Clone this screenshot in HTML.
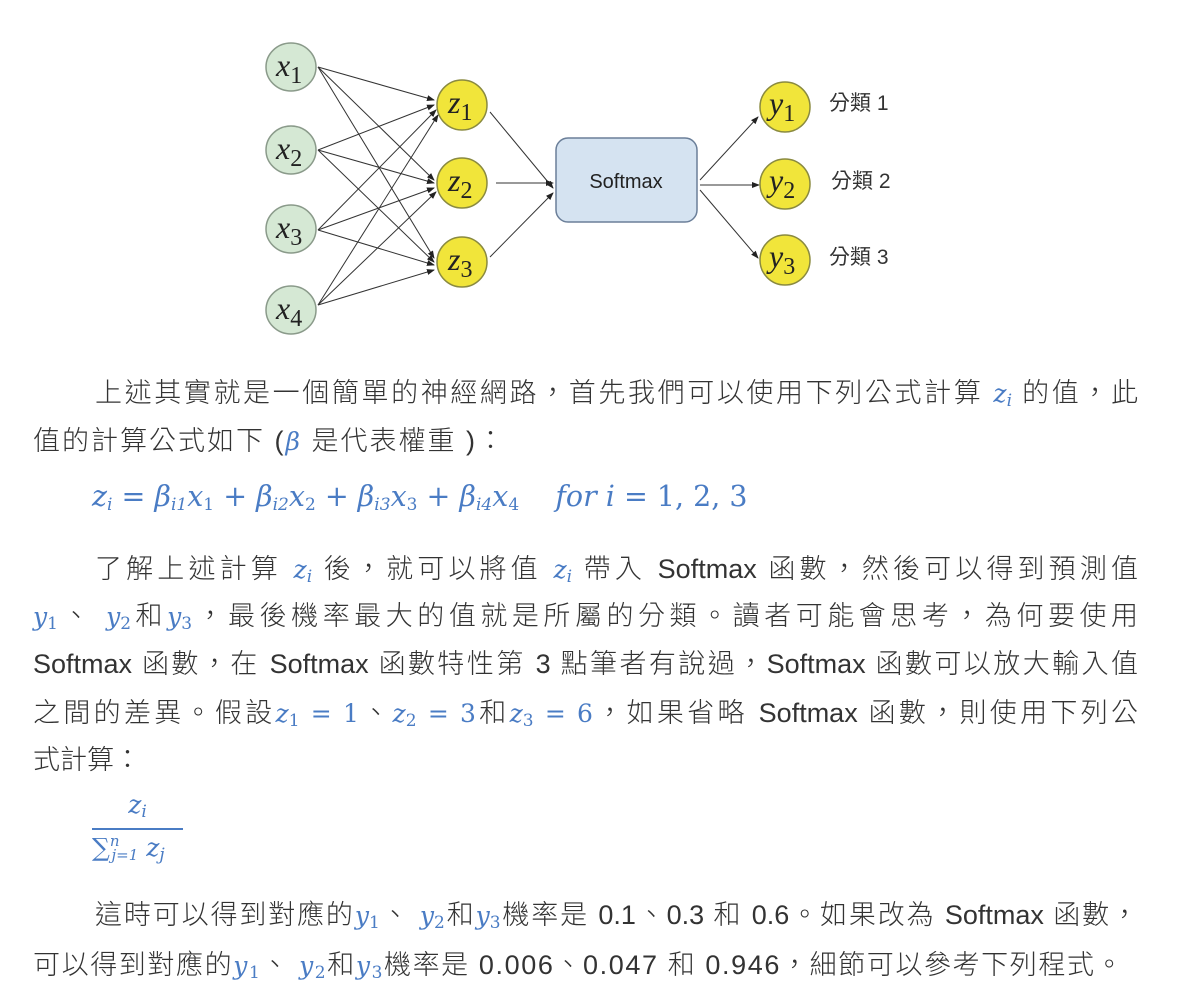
<!DOCTYPE html>
<html><head><meta charset="utf-8">
<style>
body{margin:0;background:#fff;width:1178px;height:999px;position:relative;overflow:hidden;font-family:"Liberation Sans","Noto Sans CJK TC",sans-serif;color:#333;}
.l{position:absolute;left:33px;width:1105px;font-size:27px;line-height:36px;white-space:nowrap;font-weight:300;}
.j{text-align:justify;text-align-last:justify;white-space:normal;}
.m{font-family:"DejaVu Serif","Liberation Serif",serif;font-style:italic;color:#4a7cc4;font-size:25px;}
.m sub{font-size:17px;font-style:normal;vertical-align:-4px;line-height:0;}
.mi sub{font-style:italic;}
</style></head><body>
<svg width="1178" height="350" style="position:absolute;left:0;top:0" xmlns="http://www.w3.org/2000/svg">
<defs><marker id="a" markerWidth="8" markerHeight="8" refX="7" refY="4" orient="auto" markerUnits="userSpaceOnUse"><path d="M0,1 L8,4 L0,7 z" fill="#222"/></marker></defs>
<g stroke="#333" stroke-width="1" marker-end="url(#a)">
<line x1="318" y1="67" x2="434" y2="100"/><line x1="318" y1="67" x2="434" y2="180"/><line x1="318" y1="67" x2="434" y2="258"/>
<line x1="318" y1="150" x2="434" y2="105"/><line x1="318" y1="150" x2="434" y2="183"/><line x1="318" y1="150" x2="434" y2="262"/>
<line x1="318" y1="230" x2="436" y2="110"/><line x1="318" y1="230" x2="434" y2="188"/><line x1="318" y1="230" x2="434" y2="265"/>
<line x1="318" y1="305" x2="438" y2="115"/><line x1="318" y1="305" x2="436" y2="192"/><line x1="318" y1="305" x2="434" y2="270"/>
<line x1="490" y1="112" x2="553" y2="188"/><line x1="496" y1="183" x2="553" y2="183"/><line x1="490" y1="257" x2="553" y2="193"/>
<line x1="700" y1="180" x2="758" y2="117"/><line x1="700" y1="185" x2="759" y2="185"/><line x1="700" y1="190" x2="758" y2="258"/>
</g>
<g fill="#d5e8d4" stroke="#8a9a8a" stroke-width="1.5">
<ellipse cx="291" cy="67" rx="25" ry="24"/><ellipse cx="291" cy="150" rx="25" ry="24"/><ellipse cx="291" cy="229" rx="25" ry="24"/><ellipse cx="291" cy="310" rx="25" ry="24"/>
</g>
<g fill="#f1e53a" stroke="#8a8a40" stroke-width="1.5">
<ellipse cx="462" cy="105" rx="25" ry="25"/><ellipse cx="462" cy="183" rx="25" ry="25"/><ellipse cx="462" cy="262" rx="25" ry="25"/>
<ellipse cx="785" cy="107" rx="25" ry="25"/><ellipse cx="785" cy="184" rx="25" ry="25"/><ellipse cx="785" cy="260" rx="25" ry="25"/>
</g>
<rect x="556" y="138" width="141" height="84" rx="12" fill="#d5e3f1" stroke="#6b7f99" stroke-width="1.5"/>
<text x="626" y="188" font-size="20" text-anchor="middle" font-family="Liberation Sans,sans-serif" fill="#222">Softmax</text>
<g font-family="Liberation Serif,serif" font-style="italic" font-size="32" fill="#222">
<text x="276" y="76">x<tspan font-style="normal" font-size="24" dy="7">1</tspan></text>
<text x="276" y="159">x<tspan font-style="normal" font-size="24" dy="7">2</tspan></text>
<text x="276" y="238">x<tspan font-style="normal" font-size="24" dy="7">3</tspan></text>
<text x="276" y="319">x<tspan font-style="normal" font-size="24" dy="7">4</tspan></text>
<text x="448" y="113">z<tspan font-style="normal" font-size="24" dy="7">1</tspan></text>
<text x="448" y="191">z<tspan font-style="normal" font-size="24" dy="7">2</tspan></text>
<text x="448" y="270">z<tspan font-style="normal" font-size="24" dy="7">3</tspan></text>
<text x="769" y="114">y<tspan font-style="normal" font-size="24" dy="7">1</tspan></text>
<text x="769" y="191">y<tspan font-style="normal" font-size="24" dy="7">2</tspan></text>
<text x="769" y="267">y<tspan font-style="normal" font-size="24" dy="7">3</tspan></text>
</g>
<g font-family="Liberation Sans,Noto Sans CJK TC,sans-serif" font-size="21" fill="#333">
<text x="829" y="110">分類 1</text><text x="831" y="188">分類 2</text><text x="829" y="264">分類 3</text>
</g>
</svg>

<div class="l j" style="top:375px;padding-left:62px;width:1043px">上述其實就是一個簡單的神經網路，首先我們可以使用下列公式計算 <span class="m mi">z<sub>i</sub></span> 的值，此</div>
<div class="l" style="top:423px;letter-spacing:2px">值的計算公式如下 (<span class="m">β</span> 是代表權重 )：</div>
<div class="l" style="top:479px;left:92px"><span class="m mi" style="font-size:28.5px">z<sub>i</sub> <span style="font-style:normal">=</span> β<sub>i1</sub>x<sub style="font-style:normal">1</sub> <span style="font-style:normal">+</span> β<sub>i2</sub>x<sub style="font-style:normal">2</sub> <span style="font-style:normal">+</span> β<sub>i3</sub>x<sub style="font-style:normal">3</sub> <span style="font-style:normal">+</span> β<sub>i4</sub>x<sub style="font-style:normal">4</sub> &nbsp;&nbsp;&nbsp;for i <span style="font-style:normal">= 1, 2, 3</span></span></div>

<div class="l j" style="top:551px;padding-left:62px;width:1043px">了解上述計算 <span class="m mi">z<sub>i</sub></span> 後，就可以將值 <span class="m mi">z<sub>i</sub></span> 帶入 Softmax 函數，然後可以得到預測值</div>
<div class="l j" style="top:598px"><span class="m">y<sub>1</sub></span>、 <span class="m">y<sub>2</sub></span>和<span class="m">y<sub>3</sub></span>，最後機率最大的值就是所屬的分類。讀者可能會思考，為何要使用</div>
<div class="l j" style="top:646px">Softmax 函數，在 Softmax 函數特性第 3 點筆者有說過，Softmax 函數可以放大輸入值</div>
<div class="l j" style="top:695px">之間的差異。假設<span class="m">z<sub>1</sub> <span style="font-style:normal">= 1</span></span>、<span class="m">z<sub>2</sub> <span style="font-style:normal">= 3</span></span>和<span class="m">z<sub>3</sub> <span style="font-style:normal">= 6</span></span>，如果省略 Softmax 函數，則使用下列公</div>
<div class="l" style="top:742px">式計算：</div>

<div style="position:absolute;left:92px;top:790px;width:91px;text-align:center" class="m mi">z<sub>i</sub></div>
<div style="position:absolute;left:92px;top:828px;width:91px;height:2px;background:#4a7cc4"></div>
<div style="position:absolute;left:92px;top:832px;white-space:nowrap" class="m">∑<sup style="font-size:15px;vertical-align:10px">n</sup><sub style="font-style:italic;margin-left:-8px;font-size:15px">j=1</sub> z<sub style="font-style:italic">j</sub></div>

<div class="l j" style="top:897px;padding-left:62px;width:1043px">這時可以得到對應的<span class="m">y<sub>1</sub></span>、 <span class="m">y<sub>2</sub></span>和<span class="m">y<sub>3</sub></span>機率是 0.1、0.3 和 0.6。如果改為 Softmax 函數，</div>
<div class="l" style="top:947px;letter-spacing:1.6px">可以得到對應的<span class="m">y<sub>1</sub></span>、 <span class="m">y<sub>2</sub></span>和<span class="m">y<sub>3</sub></span>機率是 0.006、0.047 和 0.946，細節可以參考下列程式。</div>
</body></html>
